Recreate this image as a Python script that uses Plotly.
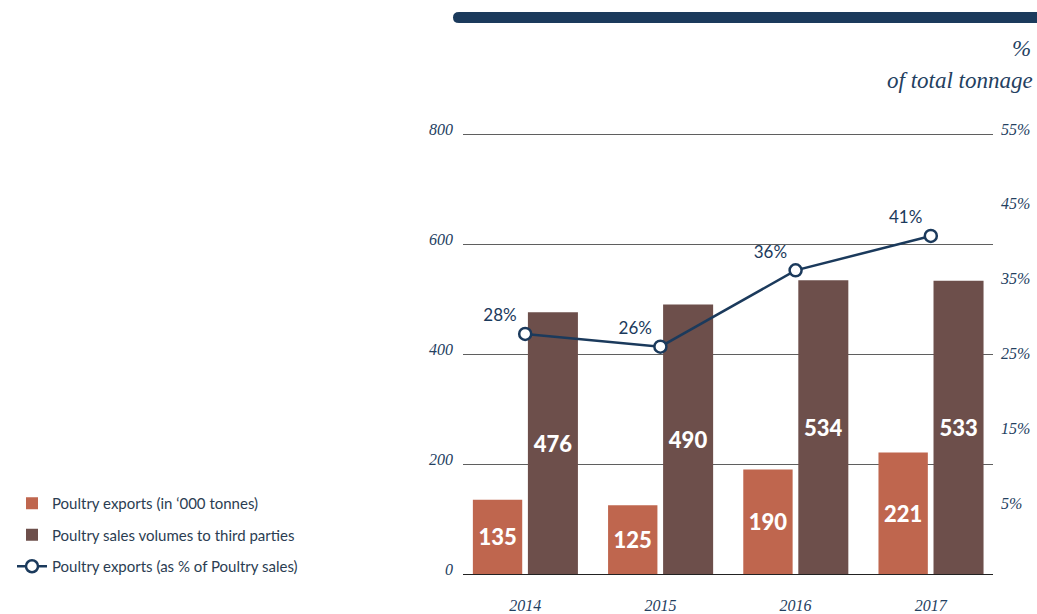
import plotly.graph_objects as go

years = ["2014", "2015", "2016", "2017"]
exports_kt = [135, 125, 190, 221]
sales_kt = [476, 490, 534, 533]
exports_pct = [27.6, 25.9, 36.1, 40.7]
pct_labels = ["28%", "26%", "36%", "41%"]
left_ticks = [0, 200, 400, 600, 800]
right_ticks = [5, 15, 25, 35, 45, 55]

W, H = 1037, 614
ORANGE = "#BF664E"
BROWN = "#6D4F4B"
NAVY = "#1B3A5C"
LABEL = "#24405F"
SERIF = "Liberation Serif"
SANS = "Lato"

fig = go.Figure()
fig.add_trace(go.Bar(
    x=list(range(4)), y=exports_kt, name="Poultry exports (in \u2018000 tonnes)",
    marker=dict(color=ORANGE, line=dict(width=0)), width=0.365, offset=-0.387,
    text=[str(v) for v in exports_kt], textposition="inside", insidetextanchor="middle",
    textangle=0, constraintext="none",
    textfont=dict(family=SANS, size=22, color="white", weight=900),
    legendgroup="a", hoverinfo="skip",
))
fig.add_trace(go.Bar(
    x=list(range(4)), y=sales_kt, name="Poultry sales volumes to third parties",
    marker=dict(color=BROWN, line=dict(width=0)), width=0.37, offset=0.02,
    text=[str(v) for v in sales_kt], textposition="inside", insidetextanchor="middle",
    textangle=0, constraintext="none",
    textfont=dict(family=SANS, size=22, color="white", weight=900),
    legendgroup="b", hoverinfo="skip",
))
fig.add_trace(go.Scatter(
    x=list(range(4)), y=exports_pct, yaxis="y2", name="Poultry exports (as % of Poultry sales)",
    mode="lines+markers+text", text=pct_labels, textposition="top left",
    textfont=dict(family=SANS, size=17, color=NAVY),
    line=dict(color=NAVY, width=2.5),
    marker=dict(symbol="circle", size=12, color="white", line=dict(color=NAVY, width=2.5)),
    legendgroup="c", cliponaxis=False, hoverinfo="skip",
))

y_bot = 574
y_top = 120
left_scale = 440 / 800
right_scale = (503 - 129) / 50.0
r_lo = 5 - (y_bot - 503) / right_scale
r_hi = 55 + (129 - y_top) / right_scale

fig.update_layout(
    width=W, height=H,
    margin=dict(l=0, r=0, t=0, b=0, autoexpand=False),
    paper_bgcolor="white", plot_bgcolor="white",
    barmode="overlay",
    showlegend=True,
    legend=dict(
        x=12 / W, xanchor="left", y=1 - 487 / H, yanchor="top",
        font=dict(family=SANS, size=15, color="#2B3D52"),
        tracegroupgap=9, itemwidth=30, bgcolor="rgba(0,0,0,0)",
    ),
    xaxis=dict(
        domain=[463 / W, 993 / W], range=[-0.46, 3.46], automargin=False,
        tickmode="array", tickvals=list(range(4)), ticktext=years,
        showgrid=False, zeroline=False, showline=False, ticks="",
        tickfont=dict(family=SERIF, size=16, color=LABEL, style="italic"),
        ticklabelstandoff=20,
    ),
    yaxis=dict(
        domain=[1 - y_bot / H, 1 - y_top / H], range=[0, (y_bot - y_top) / left_scale],
        automargin=False,
        tickmode="array", tickvals=left_ticks,
        showgrid=True, gridcolor="#5F5F5F", gridwidth=1.2,
        zeroline=True, zerolinecolor="#222222", zerolinewidth=1.2,
        showline=False, ticks="",
        tickfont=dict(family=SERIF, size=16, color=LABEL, style="italic"),
        ticklabelstandoff=9, ticklabelshift=-5,
    ),
    yaxis2=dict(
        overlaying="y", side="right", anchor="x", automargin=False,
        range=[r_lo, r_hi], tickmode="array", tickvals=right_ticks,
        ticktext=[f"{v}%" for v in right_ticks],
        showgrid=False, zeroline=False, showline=False, ticks="",
        tickfont=dict(family=SERIF, size=16, color=LABEL, style="italic"),
        ticklabelstandoff=7,
    ),
)

# top decorative bar
fig.add_shape(
    type="path", xref="paper", yref="paper",
    path=f"M {459/W} {1-12/H} L {1.01} {1-12/H} L {1.01} {1-23/H} L {459/W} {1-23/H} "
         f"Q {453/W} {1-23/H} {453/W} {1-17.5/H} Q {453/W} {1-12/H} {459/W} {1-12/H} Z",
    fillcolor=NAVY, line=dict(width=0),
)

fig.add_annotation(
    xref="paper", yref="paper", x=1033 / W, y=1 - 48 / H, xanchor="right", yanchor="middle",
    text="%", showarrow=False,
    font=dict(family=SERIF, size=23, color=LABEL, style="italic"),
)
fig.add_annotation(
    xref="paper", yref="paper", x=1035 / W, y=1 - 80 / H, xanchor="right", yanchor="middle",
    text="of total tonnage", showarrow=False,
    font=dict(family=SERIF, size=23, color=LABEL, style="italic"),
)

fig.write_html(
    "out.html",
    config={"displayModeBar": False},
    post_script="document.body.style.margin='0';document.body.style.overflow='hidden';"
                "document.documentElement.style.overflow='hidden';",
)
